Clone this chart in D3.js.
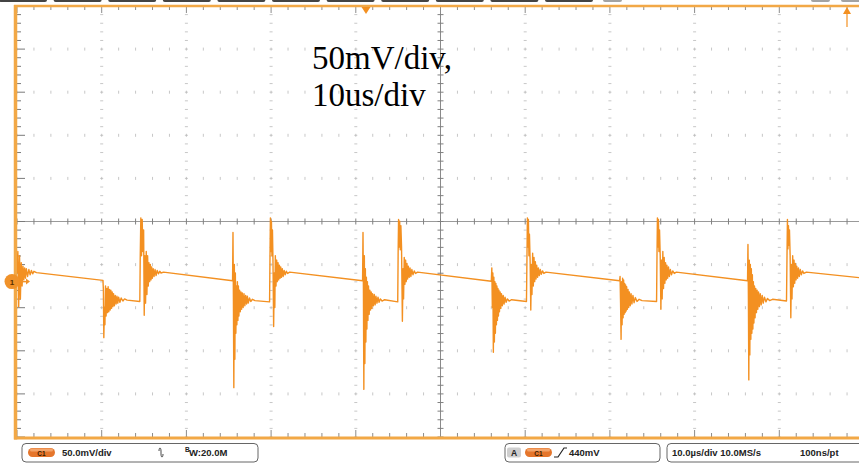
<!DOCTYPE html>
<html><head><meta charset="utf-8">
<script src="https://cdn.jsdelivr.net/npm/d3@7/dist/d3.min.js"></script>
<style>html,body{margin:0;padding:0;background:#fff;overflow:hidden}</style>
</head><body>
<svg id="c" width="859" height="465"></svg>
<script>
// ---- settings ----
const voltsPerDivMv = 50;
const timePerDivUs = 10;
const groundOffsetDiv = -1.395;           // channel-1 marker position vs. centre line
const annotationLines = ["50mV/div,", "10us/div"];
const channelLabel = "C1";
const channelScaleText = "50.0mV/div";
const bandwidthText = "W:20.0M";
const triggerLevelText = "440mV";
const timebaseText = "10.0\u00b5s/div 10.0MS/s";
const samplePeriodText = "100ns/pt";

// ---- trace: [time (us from left edge), voltage (mV vs. ground marker)] ----
const startSegment = [[0.0,10],[0.1,35],[0.2,-29],[0.3,30],[0.4,-20],[0.5,22],[0.6,-5],[0.7,18],[0.8,2],[0.9,16],[1.0,4],[1.1,15],[1.25,6],[1.4,14],[1.55,8],[1.7,13],[1.85,9],[2.0,12],[2.3,10.5]];
const cycle1 = [[10.15,1.5],[10.2,-10],[10.25,-65],[10.32,-30],[10.38,-50],[10.45,-5],[10.52,-40],[10.6,-8],[10.68,-36],[10.76,-6],[10.84,-35],[10.92,-9],[11.0,-33],[11.08,-10],[11.16,-31],[11.24,-12],[11.32,-29],[11.4,-14],[11.5,-28],[11.6,-16],[11.7,-26],[11.8,-17],[11.9,-25],[12.0,-18],[12.15,-24],[12.3,-19],[12.5,-22.5],[12.7,-20],[13.0,-21.5],[14.5,-23],
  [14.55,28],[14.62,74],[14.7,30],[14.78,72],[14.86,35],[14.95,60],[15.02,-39],[15.1,30],[15.18,-25],[15.26,35],[15.34,-15],[15.42,30],[15.5,-5],[15.58,22],[15.66,0],[15.74,20],[15.82,2],[15.9,17],[15.98,4],[16.08,15],[16.18,6],[16.3,14],[16.42,7],[16.55,13],[16.7,9],[16.85,12],[17.0,10],[17.3,11]];
const cycle2 = [[25.45,1],[25.5,57],[25.55,-20],[25.6,-123],[25.66,20],[25.72,-90],[25.78,10],[25.84,-60],[25.9,-5],[25.96,-50],[26.02,0],[26.08,-45],[26.14,-5],[26.2,-40],[26.28,-10],[26.36,-35],[26.44,-12],[26.52,-32],[26.6,-13],[26.7,-30],[26.8,-14],[26.9,-28],[27.0,-16],[27.1,-26],[27.2,-17],[27.3,-25],[27.45,-19],[27.6,-23],[27.8,-20.5],[28.1,-22],[29.82,-23.5],
  [29.87,30],[29.92,74],[29.98,35],[30.04,70],[30.1,30],[30.16,60],[30.22,25],[30.3,-52],[30.38,10],[30.44,-30],[30.5,30],[30.58,-5],[30.66,25],[30.74,0],[30.82,22],[30.9,2],[30.98,19],[31.06,4],[31.14,17],[31.22,5],[31.32,15],[31.42,6],[31.54,13],[31.66,8],[31.8,12],[31.95,9.5],[32.2,11]];
const cycle3 = [[40.8,1],[40.85,57],[40.9,-10],[40.95,-125],[41.01,30],[41.07,-95],[41.13,15],[41.19,-70],[41.25,5],[41.31,-55],[41.37,0],[41.43,-45],[41.5,-5],[41.58,-38],[41.66,-10],[41.74,-33],[41.82,-12],[41.9,-31],[41.98,-14],[42.08,-28],[42.18,-15],[42.28,-27],[42.38,-17],[42.5,-25],[42.62,-18],[42.75,-24],[42.9,-20],[43.1,-22.5],[43.4,-21],[44.95,-23.5],
  [45.0,35],[45.05,72],[45.12,40],[45.18,70],[45.25,37],[45.32,65],[45.4,40],[45.5,-46],[45.58,15],[45.64,-20],[45.72,28],[45.8,-3],[45.88,25],[45.96,0],[46.04,21],[46.12,3],[46.2,18],[46.3,5],[46.4,16],[46.5,6],[46.62,14],[46.75,8],[46.9,12.5],[47.05,9.5],[47.3,11]];
const cycle4 = [[56.0,0.5],[56.06,16],[56.12,-30],[56.18,10],[56.24,-82],[56.3,5],[56.36,-70],[56.42,0],[56.48,-60],[56.54,-2],[56.6,-50],[56.66,-5],[56.72,-45],[56.78,-8],[56.84,-40],[56.9,-10],[56.96,-35],[57.04,-12],[57.12,-31],[57.2,-14],[57.3,-28],[57.4,-16],[57.5,-26],[57.62,-18],[57.75,-24],[57.9,-20],[58.1,-22.5],[58.4,-21],[60.15,-23],
  [60.21,30],[60.26,74],[60.32,40],[60.38,72],[60.44,30],[60.5,55],[60.58,25],[60.66,-33],[60.74,20],[60.8,-15],[60.88,33],[60.96,-5],[61.04,28],[61.12,0],[61.2,23],[61.28,3],[61.36,19],[61.46,5],[61.56,16],[61.66,7],[61.78,14],[61.9,8.5],[62.05,12.5],[62.2,9.5],[62.45,11]];
const cycle5 = [[71.15,1],[71.2,6],[71.26,-25],[71.32,-67],[71.38,0],[71.44,-50],[71.5,4],[71.56,-42],[71.62,2],[71.68,-38],[71.74,-2],[71.8,-36],[71.86,-4],[71.92,-34],[71.98,-6],[72.06,-32],[72.14,-9],[72.22,-30],[72.3,-12],[72.4,-28],[72.5,-14],[72.6,-26],[72.72,-16],[72.85,-24.5],[73.0,-18.5],[73.2,-23],[73.45,-20.5],[73.8,-22],[75.51,-23],
  [75.56,30],[75.61,74],[75.67,40],[75.73,72],[75.79,35],[75.86,60],[75.94,30],[76.02,-32],[76.1,25],[76.17,-20],[76.25,35],[76.33,-8],[76.41,28],[76.49,-2],[76.57,22],[76.65,2],[76.73,19],[76.82,4],[76.92,17],[77.02,6],[77.14,14],[77.27,8],[77.42,12.5],[77.6,9.5],[77.85,11]];
const cycle6 = [[86.25,1],[86.3,43],[86.35,-15],[86.4,-114],[86.46,25],[86.52,-85],[86.58,20],[86.64,-67],[86.7,15],[86.76,-60],[86.82,8],[86.88,-55],[86.94,0],[87.0,-48],[87.07,-5],[87.14,-42],[87.22,-8],[87.3,-36],[87.38,-10],[87.46,-32],[87.55,-12],[87.65,-29],[87.75,-14],[87.86,-27],[87.98,-16],[88.1,-25],[88.25,-18],[88.42,-23.5],[88.6,-19.5],[88.85,-22],[89.2,-20.5],[90.85,-22.5],
  [90.91,30],[90.96,72],[91.02,38],[91.08,65],[91.14,42],[91.2,60],[91.28,30],[91.36,-42],[91.44,20],[91.5,-20],[91.58,30],[91.66,-6],[91.74,25],[91.82,-2],[91.9,21],[91.98,2],[92.06,18],[92.16,4],[92.26,16],[92.36,6],[92.48,14],[92.6,8],[92.75,12.5],[92.9,9.5],[93.2,11],[99.5,4.5]];

const trace = [].concat(startSegment, cycle1, cycle2, cycle3, cycle4, cycle5, cycle6);

// ---- layout ----
const W = 859, H = 465;
const pLeft = 17, pTop = 6, pBottom = 437;
const divW = 84.7, nDivX = 10, nDivY = 10;
const pRight = pLeft + divW * nDivX;
const ORANGE = "#f39021", BORDER = "#f2a846", GRID = "#b9b9b9", AXIS = "#9a9a9a";

const svg = d3.select("#c");
const x = d3.scaleLinear().domain([0, timePerDivUs * nDivX]).range([pLeft, pRight]);
const vMin = (-nDivY / 2 - groundOffsetDiv) * voltsPerDivMv;
const vMax = (nDivY / 2 - groundOffsetDiv) * voltsPerDivMv;
const y = d3.scaleLinear().domain([vMin, vMax]).range([pBottom, pTop]);
const xc = x(timePerDivUs * nDivX / 2);
const yc = y(-groundOffsetDiv * voltsPerDivMv);

// top menu tab remnants
const g0 = svg.append("g");
for (let i = 0; i < 11; i++) {
  g0.append("rect").attr("x", i * 54.6 - 1).attr("y", -3).attr("width", 48).attr("height", 5).attr("rx", 2).attr("fill", "#444");
}
[[603, 19], [811, 19], [841, 20]].forEach(d => g0.append("rect").attr("x", d[0]).attr("y", -3).attr("width", d[1]).attr("height", 5).attr("rx", 2).attr("fill", "#a3a3a3"));

// grid
const grid = svg.append("g");
const minorX = d3.range(0, timePerDivUs * nDivX + 0.01, timePerDivUs / 5);
const majorX = d3.range(0, timePerDivUs * nDivX + 0.01, timePerDivUs);
const minorYdiv = d3.range(-nDivY / 2, nDivY / 2 + 0.01, 0.2);
const majorYdiv = d3.range(-nDivY / 2, nDivY / 2 + 0.01, 1);
const yDiv = dv => yc - dv * (pBottom - pTop) / nDivY;

majorYdiv.forEach(dv => {
  if (Math.abs(dv) < 1e-6 || Math.abs(dv) === nDivY / 2) return;
  const yy = yDiv(dv);
  minorX.forEach(t => {
    const xx = x(t);
    grid.append("line").attr("x1", xx).attr("x2", xx).attr("y1", yy - 1.5).attr("y2", yy + 1.5).attr("stroke", GRID).attr("stroke-width", 0.8);
  });
});
majorX.forEach(t => {
  if (t === 0 || Math.abs(t - timePerDivUs * nDivX / 2) < 1e-6) return;
  const xx = x(t);
  minorYdiv.forEach(dv => {
    const yy = yDiv(dv);
    grid.append("line").attr("x1", xx - 1.5).attr("x2", xx + 1.5).attr("y1", yy).attr("y2", yy).attr("stroke", GRID).attr("stroke-width", 0.8);
  });
});
grid.append("line").attr("x1", pLeft).attr("x2", W).attr("y1", yc).attr("y2", yc).attr("stroke", AXIS).attr("stroke-width", 1);
grid.append("line").attr("x1", xc).attr("x2", xc).attr("y1", pTop).attr("y2", pBottom).attr("stroke", "#8a8a8a").attr("stroke-width", 1);
minorX.forEach(t => grid.append("line").attr("x1", x(t)).attr("x2", x(t)).attr("y1", yc - 3).attr("y2", yc + 3).attr("stroke", "#808080").attr("stroke-width", 1));
minorYdiv.forEach(dv => grid.append("line").attr("x1", xc - 3).attr("x2", xc + 3).attr("y1", yDiv(dv)).attr("y2", yDiv(dv)).attr("stroke", "#808080").attr("stroke-width", 1));

minorX.forEach((t, i) => {
  const len = i % 5 === 0 ? 7 : 4;
  grid.append("line").attr("x1", x(t)).attr("x2", x(t)).attr("y1", pTop).attr("y2", pTop + len).attr("stroke", "#8c8c8c").attr("stroke-width", 1);
  grid.append("line").attr("x1", x(t)).attr("x2", x(t)).attr("y1", pBottom - len).attr("y2", pBottom).attr("stroke", "#8c8c8c").attr("stroke-width", 1);
});
minorYdiv.forEach((dv, i) => {
  const len = i % 5 === 0 ? 8 : 4;
  grid.append("line").attr("x1", pLeft).attr("x2", pLeft + len).attr("y1", yDiv(dv)).attr("y2", yDiv(dv)).attr("stroke", "#7a7a7a").attr("stroke-width", 1);
});

// borders
svg.append("line").attr("x1", pLeft - 3).attr("x2", W).attr("y1", pTop).attr("y2", pTop).attr("stroke", BORDER).attr("stroke-width", 2.5);
svg.append("line").attr("x1", pLeft - 3).attr("x2", W).attr("y1", pBottom + 1).attr("y2", pBottom + 1).attr("stroke", BORDER).attr("stroke-width", 3);
svg.append("line").attr("x1", pLeft - 1.5).attr("x2", pLeft - 1.5).attr("y1", pTop - 1).attr("y2", pBottom + 2.5).attr("stroke", BORDER).attr("stroke-width", 3.5);

// trace
svg.append("clipPath").attr("id", "clip").append("rect").attr("x", pLeft).attr("y", pTop).attr("width", W - pLeft).attr("height", pBottom - pTop);
const line = d3.line().x(d => x(d[0])).y(d => y(d[1]));
svg.append("path").datum(trace).attr("d", line).attr("fill", "none").attr("stroke", ORANGE).attr("stroke-width", 1.4).attr("stroke-linejoin", "round").attr("clip-path", "url(#clip)");

// trigger markers
const trigX = 366;
svg.append("path").attr("d", `M${trigX - 4.5},${pTop + 1} L${trigX + 4.5},${pTop + 1} L${trigX},${pTop + 8} Z`).attr("fill", ORANGE);
svg.append("path").attr("d", `M843,14 L851,14 L847,7 Z`).attr("fill", ORANGE);
svg.append("line").attr("x1", 847).attr("x2", 847).attr("y1", 12).attr("y2", 27).attr("stroke", ORANGE).attr("stroke-width", 1.2);

// channel ground marker
svg.append("circle").attr("cx", 12).attr("cy", y(0)).attr("r", 7.5).attr("fill", "#f0922a");
svg.append("text").attr("x", 12).attr("y", y(0) + 3).attr("text-anchor", "middle").attr("font-family", "Liberation Sans, Arial").attr("font-weight", "bold").attr("font-size", 8).attr("fill", "#5a3000").text("1");
svg.append("line").attr("x1", 21).attr("x2", 27).attr("y1", y(0)).attr("y2", y(0)).attr("stroke", "#f0922a").attr("stroke-width", 1.5);
svg.append("path").attr("d", `M26,${y(0) - 3} L30,${y(0)} L26,${y(0) + 3} Z`).attr("fill", "#f0922a");

// annotation
annotationLines.forEach((s, i) => svg.append("text").attr("x", 312).attr("y", 69 + i * 37).attr("font-family", "Liberation Serif, Times New Roman, serif").attr("font-size", 33).attr("fill", "#000").text(s));

// bottom status bar
const sb = svg.append("g").attr("font-family", "Liberation Sans, Arial, sans-serif").attr("font-weight", "bold").attr("font-size", 9.5).attr("fill", "#222");
const box = (x0, x1) => sb.append("rect").attr("x", x0).attr("y", 443.5).attr("width", x1 - x0).attr("height", 18.5).attr("rx", 4).attr("fill", "#fff").attr("stroke", "#666").attr("stroke-width", 1);
box(22, 258); box(505, 660); box(667, 880);
const pill = (x0) => {
  sb.append("rect").attr("x", x0).attr("y", 448).attr("width", 27).attr("height", 9).attr("rx", 4.5).attr("fill", "#e5762c");
  sb.append("rect").attr("x", x0 + 2).attr("y", 448.5).attr("width", 23).attr("height", 3).attr("rx", 1.5).attr("fill", "#f4a46a");
  sb.append("text").attr("x", x0 + 13.5).attr("y", 455.5).attr("text-anchor", "middle").attr("font-size", 6.5).attr("fill", "#3a1a00").text(channelLabel);
};
pill(28);
sb.append("text").attr("x", 62).attr("y", 456).text(channelScaleText);
sb.append("path").attr("d", "M159,451 C159,447 161,447 161,451 L161,454 C161,458 163,458 163,454").attr("fill", "none").attr("stroke", "#333").attr("stroke-width", 0.9);
sb.append("text").attr("x", 185).attr("y", 452).attr("font-size", 6.5).text("B");
sb.append("text").attr("x", 189).attr("y", 456).text(bandwidthText);
sb.append("rect").attr("x", 507).attr("y", 447.5).attr("width", 14).attr("height", 10).attr("rx", 2).attr("fill", "#cfcfcf");
sb.append("text").attr("x", 514).attr("y", 456).attr("text-anchor", "middle").attr("font-size", 8.5).text("A");
pill(525);
sb.append("path").attr("d", "M554,457 L558,457 L564,448 L567,448").attr("fill", "none").attr("stroke", "#222").attr("stroke-width", 1.2);
sb.append("text").attr("x", 569).attr("y", 456).text(triggerLevelText);
sb.append("text").attr("x", 672).attr("y", 456).text(timebaseText);
sb.append("text").attr("x", 800).attr("y", 456).text(samplePeriodText);
</script>
</body></html>
